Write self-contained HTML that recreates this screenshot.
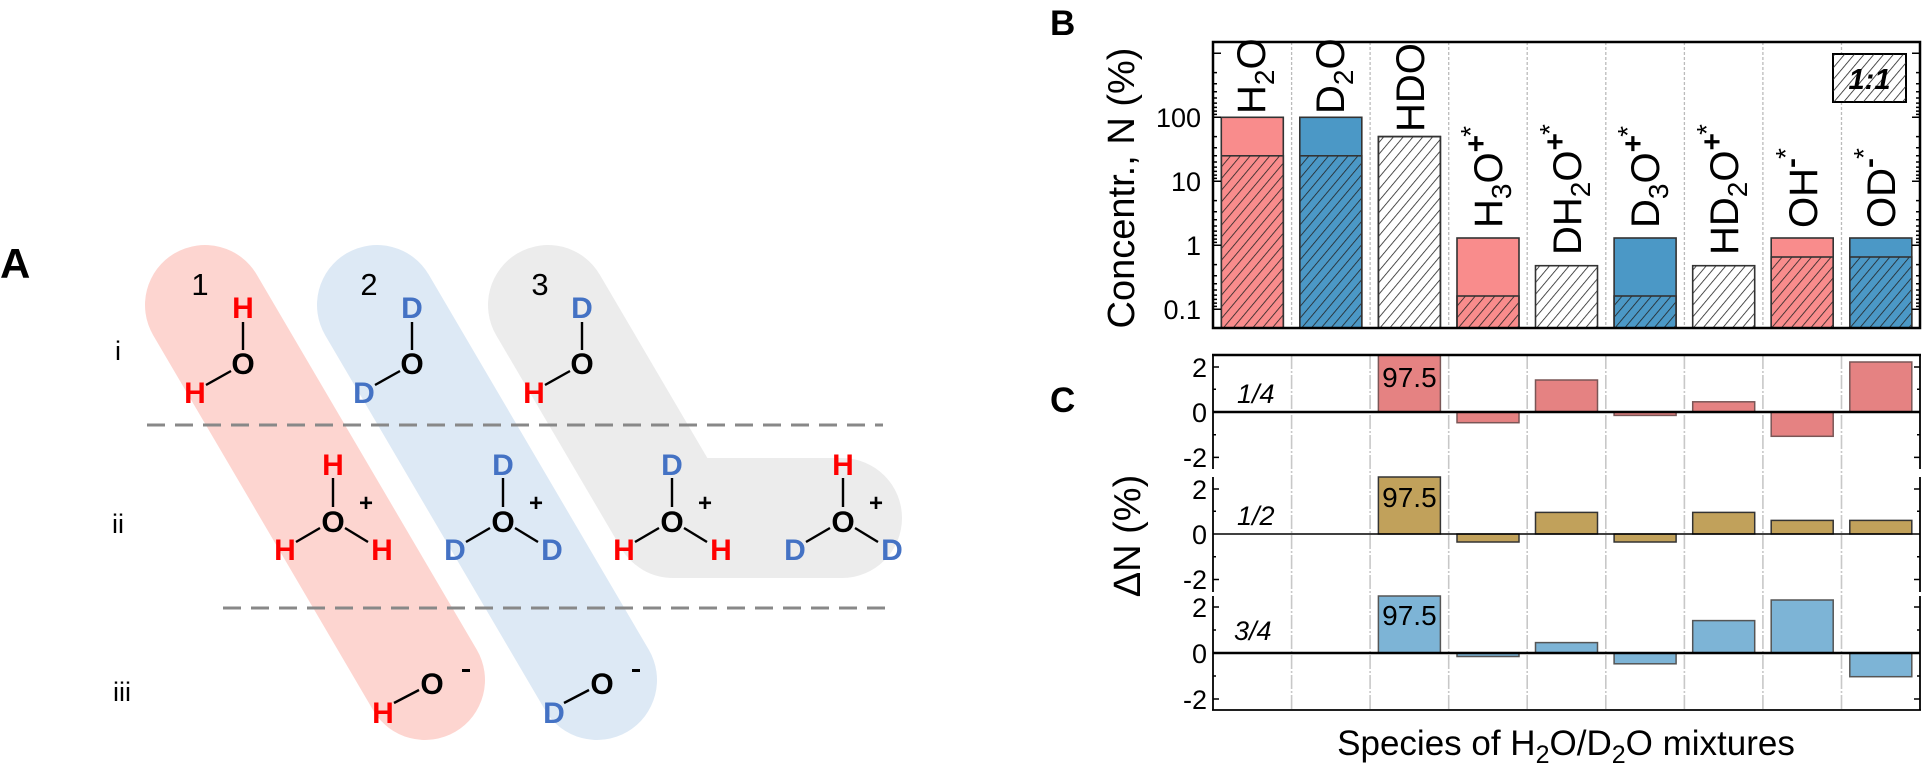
<!DOCTYPE html>
<html><head><meta charset="utf-8"><style>
html,body{margin:0;padding:0;background:#fff;}
svg{display:block;font-family:"Liberation Sans",Arial,sans-serif;}
</style></head><body>
<svg width="1923" height="774" viewBox="0 0 1923 774" xmlns="http://www.w3.org/2000/svg">
<defs>
<pattern id="h" width="7.5" height="8" patternUnits="userSpaceOnUse" patternTransform="rotate(40)">
<line x1="0" y1="0" x2="0" y2="8" stroke="#222" stroke-width="1.6"/>
</pattern>
</defs>

<!-- Panel A -->
<text x="0" y="278" font-size="42" font-weight="bold">A</text>
<g fill="none" stroke-linecap="round" stroke-linejoin="round" stroke-width="120">
<line x1="205" y1="305" x2="425" y2="680" stroke="#fdd5d0"/>
<line x1="377" y1="305" x2="597" y2="680" stroke="#dde9f5"/>
<polyline points="548,305 673,518 842,518" stroke="#ececec"/>
</g>
<g stroke="#888" stroke-width="3" stroke-dasharray="18,10">
<line x1="147" y1="425" x2="883" y2="425"/>
<line x1="223" y1="608" x2="895" y2="608"/>
</g>
<g font-size="27">
<text x="115" y="360">i</text>
<text x="112" y="533">ii</text>
<text x="113" y="701">iii</text>
</g>
<g font-size="31" text-anchor="middle">
<text x="200" y="295">1</text>
<text x="369" y="295">2</text>
<text x="540" y="295">3</text>
</g>
<g stroke="#000" stroke-width="2.4">
<line x1="243" y1="322" x2="243" y2="350"/><line x1="206" y1="385" x2="231" y2="371"/>
<line x1="412" y1="322" x2="412" y2="350"/><line x1="375" y1="385" x2="400" y2="371"/>
<line x1="582" y1="322" x2="582" y2="350"/><line x1="545" y1="385" x2="570" y2="371"/>
<line x1="333" y1="478" x2="333" y2="507"/><line x1="296" y1="542" x2="320" y2="528"/><line x1="345" y1="528" x2="368" y2="542"/>
<line x1="503" y1="478" x2="503" y2="507"/><line x1="466" y1="542" x2="490" y2="528"/><line x1="515" y1="528" x2="538" y2="542"/>
<line x1="672" y1="478" x2="672" y2="507"/><line x1="635" y1="542" x2="659" y2="528"/><line x1="684" y1="528" x2="707" y2="542"/>
<line x1="843" y1="478" x2="843" y2="507"/><line x1="806" y1="542" x2="830" y2="528"/><line x1="855" y1="528" x2="878" y2="542"/>
<line x1="394" y1="703" x2="419" y2="690"/>
<line x1="564" y1="703" x2="589" y2="690"/>
</g>
<g font-size="30" font-weight="bold" text-anchor="middle">
<text x="243" y="318" fill="#ff0000">H</text><text x="243" y="374">O</text><text x="195" y="403" fill="#ff0000">H</text>
<text x="412" y="318" fill="#4472c4">D</text><text x="412" y="374">O</text><text x="364" y="403" fill="#4472c4">D</text>
<text x="582" y="318" fill="#4472c4">D</text><text x="582" y="374">O</text><text x="534" y="403" fill="#ff0000">H</text>
<text x="333" y="475" fill="#ff0000">H</text><text x="333" y="532">O</text><text x="285" y="560" fill="#ff0000">H</text><text x="382" y="560" fill="#ff0000">H</text>
<text x="503" y="475" fill="#4472c4">D</text><text x="503" y="532">O</text><text x="455" y="560" fill="#4472c4">D</text><text x="552" y="560" fill="#4472c4">D</text>
<text x="672" y="475" fill="#4472c4">D</text><text x="672" y="532">O</text><text x="624" y="560" fill="#ff0000">H</text><text x="721" y="560" fill="#ff0000">H</text>
<text x="843" y="475" fill="#ff0000">H</text><text x="843" y="532">O</text><text x="795" y="560" fill="#4472c4">D</text><text x="892" y="560" fill="#4472c4">D</text>
<text x="432" y="694">O</text><text x="383" y="723" fill="#ff0000">H</text>
<text x="602" y="694">O</text><text x="554" y="723" fill="#4472c4">D</text>
</g>
<g font-size="24" font-weight="bold" text-anchor="middle">
<text x="366" y="511">+</text><text x="536" y="511">+</text><text x="705" y="511">+</text><text x="876" y="511">+</text>
</g>
<rect x="462" y="669" width="8" height="3" fill="#000"/>
<rect x="632" y="669" width="8" height="3" fill="#000"/>

<!-- Panel B -->
<text x="1050" y="35" font-size="35" font-weight="bold">B</text>
<text x="1050" y="412" font-size="35" font-weight="bold">C</text>
<text transform="translate(1134,188) rotate(-90)" font-size="38" text-anchor="middle">Concentr., N (%)</text>
<g stroke="#bbb" stroke-width="1.3" stroke-dasharray="3,2">
<line x1="1291.6" y1="42" x2="1291.6" y2="328"/><line x1="1370.1" y1="42" x2="1370.1" y2="328"/>
<line x1="1448.7" y1="42" x2="1448.7" y2="328"/><line x1="1527.2" y1="42" x2="1527.2" y2="328"/>
<line x1="1605.8" y1="42" x2="1605.8" y2="328"/><line x1="1684.4" y1="42" x2="1684.4" y2="328"/>
<line x1="1762.9" y1="42" x2="1762.9" y2="328"/><line x1="1841.5" y1="42" x2="1841.5" y2="328"/>
</g>
<g stroke="#333" stroke-width="1.6">
<rect x="1221.3" y="117.3" width="62" height="210.7" fill="#f98c8c"/>
<rect x="1221.3" y="155.8" width="62" height="172.2" fill="url(#h)"/>
<rect x="1299.8" y="117.3" width="62" height="210.7" fill="#4b98c6"/>
<rect x="1299.8" y="155.8" width="62" height="172.2" fill="url(#h)"/>
<rect x="1378.4" y="136.6" width="62" height="191.4" fill="#fff"/>
<rect x="1378.4" y="136.6" width="62" height="191.4" fill="url(#h)"/>
<rect x="1457" y="238" width="62" height="90" fill="#f98c8c"/>
<rect x="1457" y="296" width="62" height="32" fill="url(#h)"/>
<rect x="1535.5" y="265.7" width="62" height="62.3" fill="url(#h)"/>
<rect x="1614.1" y="238" width="62" height="90" fill="#4b98c6"/>
<rect x="1614.1" y="296" width="62" height="32" fill="url(#h)"/>
<rect x="1692.7" y="265.7" width="62" height="62.3" fill="url(#h)"/>
<rect x="1771.2" y="238" width="62" height="90" fill="#f98c8c"/>
<rect x="1771.2" y="257" width="62" height="71" fill="url(#h)"/>
<rect x="1849.8" y="238" width="62" height="90" fill="#4b98c6"/>
<rect x="1849.8" y="257" width="62" height="71" fill="url(#h)"/>
</g>
<rect x="1833" y="54" width="73" height="48" fill="#fff" stroke="#000" stroke-width="2"/>
<rect x="1833" y="54" width="73" height="48" fill="url(#h)"/>
<text x="1869.5" y="89" font-size="29" font-weight="bold" font-style="italic" text-anchor="middle">1:1</text>
<g font-size="40">
<text transform="translate(1265,114) rotate(-90)">H<tspan font-size="28" baseline-shift="-9">2</tspan>O</text>
<text transform="translate(1344,114) rotate(-90)">D<tspan font-size="28" baseline-shift="-9">2</tspan>O</text>
<text transform="translate(1424,132) rotate(-90)">HDO</text>
<text transform="translate(1502,228) rotate(-90)">H<tspan font-size="28" baseline-shift="-9">3</tspan>O<tspan font-size="30" baseline-shift="16" font-weight="bold">+</tspan><tspan font-size="28" dx="-2" baseline-shift="22">*</tspan></text>
<text transform="translate(1581,255) rotate(-90)">DH<tspan font-size="28" baseline-shift="-9">2</tspan>O<tspan font-size="30" baseline-shift="16" font-weight="bold">+</tspan><tspan font-size="28" dx="-2" baseline-shift="22">*</tspan></text>
<text transform="translate(1659,228) rotate(-90)">D<tspan font-size="28" baseline-shift="-9">3</tspan>O<tspan font-size="30" baseline-shift="16" font-weight="bold">+</tspan><tspan font-size="28" dx="-2" baseline-shift="22">*</tspan></text>
<text transform="translate(1738,255) rotate(-90)">HD<tspan font-size="28" baseline-shift="-9">2</tspan>O<tspan font-size="30" baseline-shift="16" font-weight="bold">+</tspan><tspan font-size="28" dx="-2" baseline-shift="22">*</tspan></text>
<text transform="translate(1817,228) rotate(-90)">OH<tspan font-size="30" baseline-shift="16" font-weight="bold">-</tspan><tspan font-size="28" dx="-1" baseline-shift="22">*</tspan></text>
<text transform="translate(1895,228) rotate(-90)">OD<tspan font-size="30" baseline-shift="16" font-weight="bold">-</tspan><tspan font-size="28" dx="-1" baseline-shift="22">*</tspan></text>
</g>
<rect x="1213" y="42" width="707" height="286" fill="none" stroke="#000" stroke-width="2.5"/>
<g stroke="#000" stroke-width="1.5">
<path d="M1213 53.3h8M1213 117.3h8M1213 181.3h8M1213 245.3h8M1213 309.3h8M1920 53.3h-8M1920 117.3h-8M1920 181.3h-8M1920 245.3h-8M1920 309.3h-8"/>
<path d="M1213 72.6h4M1213 83.8h4M1213 91.8h4M1213 98h4M1213 103.1h4M1213 107.4h4M1213 111.1h4M1213 114.4h4
M1213 136.6h4M1213 147.8h4M1213 155.8h4M1213 162h4M1213 167.1h4M1213 171.4h4M1213 175.1h4M1213 178.4h4
M1213 200.6h4M1213 211.8h4M1213 219.8h4M1213 226h4M1213 231.1h4M1213 235.4h4M1213 239.1h4M1213 242.4h4
M1213 264.6h4M1213 275.8h4M1213 283.8h4M1213 290h4M1213 295.1h4M1213 299.4h4M1213 303.1h4M1213 306.4h4
M1920 72.6h-4M1920 83.8h-4M1920 91.8h-4M1920 98h-4M1920 103.1h-4M1920 107.4h-4M1920 111.1h-4M1920 114.4h-4
M1920 136.6h-4M1920 147.8h-4M1920 155.8h-4M1920 162h-4M1920 167.1h-4M1920 171.4h-4M1920 175.1h-4M1920 178.4h-4
M1920 200.6h-4M1920 211.8h-4M1920 219.8h-4M1920 226h-4M1920 231.1h-4M1920 235.4h-4M1920 239.1h-4M1920 242.4h-4
M1920 264.6h-4M1920 275.8h-4M1920 283.8h-4M1920 290h-4M1920 295.1h-4M1920 299.4h-4M1920 303.1h-4M1920 306.4h-4"/>
</g>
<g font-size="27" text-anchor="end">
<text x="1201" y="127">100</text>
<text x="1201" y="191">10</text>
<text x="1201" y="255">1</text>
<text x="1201" y="319">0.1</text>
</g>

<!-- Panel C -->
<text transform="translate(1140,536) rotate(-90)" font-size="38" text-anchor="middle">ΔN (%)</text>
<g stroke="#c8c8c8" stroke-width="1.6" stroke-dasharray="14,2,2,2">
<line x1="1291.6" y1="355" x2="1291.6" y2="710"/><line x1="1370.1" y1="355" x2="1370.1" y2="710"/>
<line x1="1448.7" y1="355" x2="1448.7" y2="710"/><line x1="1527.2" y1="355" x2="1527.2" y2="710"/>
<line x1="1605.8" y1="355" x2="1605.8" y2="710"/><line x1="1684.4" y1="355" x2="1684.4" y2="710"/>
<line x1="1762.9" y1="355" x2="1762.9" y2="710"/><line x1="1841.5" y1="355" x2="1841.5" y2="710"/>
</g>
<g fill="#e58282" stroke="#7a5656" stroke-width="1.5">
<rect x="1378.4" y="355" width="62" height="57"/>
<rect x="1457" y="412" width="62" height="10.7"/>
<rect x="1535.5" y="380" width="62" height="32"/>
<rect x="1614.1" y="412" width="62" height="3.4"/>
<rect x="1692.7" y="401.8" width="62" height="10.2"/>
<rect x="1771.2" y="412" width="62" height="24.3"/>
<rect x="1849.8" y="362" width="62" height="50"/>
</g>
<g fill="#c1a15b" stroke="#333" stroke-width="1.5">
<rect x="1378.4" y="477" width="62" height="57"/>
<rect x="1457" y="534" width="62" height="8"/>
<rect x="1535.5" y="512.4" width="62" height="21.6"/>
<rect x="1614.1" y="534" width="62" height="8"/>
<rect x="1692.7" y="512.4" width="62" height="21.6"/>
<rect x="1771.2" y="520.4" width="62" height="13.6"/>
<rect x="1849.8" y="520.4" width="62" height="13.6"/>
</g>
<g fill="#7db4d6" stroke="#555" stroke-width="1.5">
<rect x="1378.4" y="596" width="62" height="57"/>
<rect x="1457" y="653" width="62" height="3.5"/>
<rect x="1535.5" y="642.6" width="62" height="10.4"/>
<rect x="1614.1" y="653" width="62" height="10.8"/>
<rect x="1692.7" y="620.6" width="62" height="32.4"/>
<rect x="1771.2" y="600" width="62" height="53"/>
<rect x="1849.8" y="653" width="62" height="23.7"/>
</g>
<g font-size="28" text-anchor="middle">
<text x="1409.4" y="387">97.5</text>
<text x="1409.4" y="507">97.5</text>
<text x="1409.4" y="625">97.5</text>
</g>
<g font-size="27" font-style="italic">
<text x="1237" y="403">1/4</text>
<text x="1237" y="525">1/2</text>
<text x="1234" y="640">3/4</text>
</g>
<g stroke="#000" fill="none">
<line x1="1213" y1="412" x2="1920" y2="412" stroke-width="2.5"/>
<line x1="1213" y1="534" x2="1920" y2="534" stroke-width="1.6"/>
<line x1="1213" y1="653" x2="1920" y2="653" stroke-width="2.5"/>
<line x1="1212" y1="355" x2="1921" y2="355" stroke-width="2.5"/>
<line x1="1212" y1="710" x2="1921" y2="710" stroke-width="1.8"/>
<path d="M1213 355V469M1213 477V592M1213 596V710M1920 355V469M1920 477V592M1920 596V710" stroke-width="1.8"/>
<path d="M1213 367h6M1213 389.3h3M1213 434.7h3M1213 457.4h6M1213 489h6M1213 511.3h3M1213 556.7h3M1213 579.5h6M1213 607h6M1213 630h3M1213 676h3M1213 699h6
M1920 367h-6M1920 389.3h-3M1920 434.7h-3M1920 457.4h-6M1920 489h-6M1920 511.3h-3M1920 556.7h-3M1920 579.5h-6M1920 607h-6M1920 630h-3M1920 676h-3M1920 699h-6" stroke-width="1.5"/>
</g>
<g font-size="27" text-anchor="end">
<text x="1207" y="377">2</text><text x="1207" y="422">0</text><text x="1207" y="467">-2</text>
<text x="1207" y="499">2</text><text x="1207" y="544">0</text><text x="1207" y="589">-2</text>
<text x="1207" y="617">2</text><text x="1207" y="663">0</text><text x="1207" y="709">-2</text>
</g>
<text x="1566" y="755" font-size="35" text-anchor="middle">Species of H<tspan font-size="25" baseline-shift="-8">2</tspan>O/D<tspan font-size="25" baseline-shift="-8">2</tspan>O mixtures</text>
</svg>
</body></html>
